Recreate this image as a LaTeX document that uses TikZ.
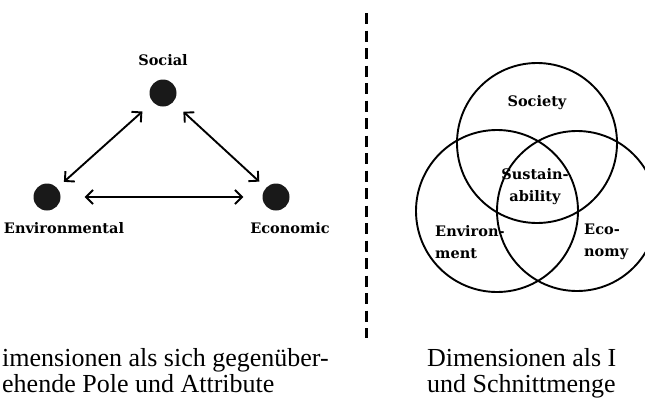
\documentclass[tikz,border=0pt]{standalone}
\usepackage{fontspec}
\setmainfont{Liberation Serif}
\newfontfamily\diafont{DejaVu Serif}
\usetikzlibrary{arrows.meta}

\tikzset{
  pole/.style={circle, fill=black!90, inner sep=0pt, minimum size=27pt},
  polelbl/.style={font=\diafont\bfseries\fontsize{14.5}{16}\selectfont, inner sep=0pt},
  setlbl/.style={font=\diafont\bfseries\fontsize{14.5}{22}\selectfont, inner sep=0pt},
  link/.style={line width=1.9pt, {Straight Barb[length=7pt,width=14pt]}-{Straight Barb[length=7pt,width=14pt]}},
  setring/.style={line width=1.9pt},
  caption/.style={font=\fontsize{26}{26}\selectfont, inner sep=0pt, align=left, anchor=north west}
}

\begin{document}
\begin{tikzpicture}[x=1pt,y=-1pt]
\useasboundingbox (0,0) rectangle (645,413);
\clip (0,0) rectangle (645,413);

%% Poles
\node[pole] (soc) at (163,93) {};
\node[pole] (env) at (47,197) {};
\node[pole] (eco) at (276,197) {};
\node[polelbl] (soclbl) at (163,60) {Social};
\node[polelbl] (envlbl) at (64,228) {Environmental};
\node[polelbl] (ecolbl) at (290,228) {Economic};

%% Links between poles
\draw[link, shorten <=9pt, shorten >=14pt] (env) -- (soc);
\draw[link, shorten <=14pt, shorten >=9pt] (soc) -- (eco);
\draw[link, shorten <=24pt, shorten >=19pt] (env) -- (eco);

%% Separator
\coordinate (septop) at (366,13);
\coordinate (sepbot) at (366,338);
\draw[line width=3pt, dash pattern=on 11pt off 6.5pt] (septop) -- (sepbot);

%% Venn circles
\draw[setring] (537,143) circle (80);
\draw[setring] (497,211) circle (81);
\draw[setring] (577,211) circle (80);
\node[setlbl] (society) at (537,103) {Society};
\node[setlbl, align=center] (sustain) at (535,187) {Sustain-\\ability};
\node[setlbl, align=left, anchor=west] (environ) at (435,242) {Environ-\\ment};
\node[setlbl, align=left, anchor=west] (economy) at (584,242) {Eco-\\nomy};

%% Captions
\node[caption] (capleft) at (2,348) {imensionen als sich gegenüber-\\ehende Pole und Attribute};
\node[caption] (capright) at (427,348) {Dimensionen als I\\und Schnittmenge};
\end{tikzpicture}
\end{document}
